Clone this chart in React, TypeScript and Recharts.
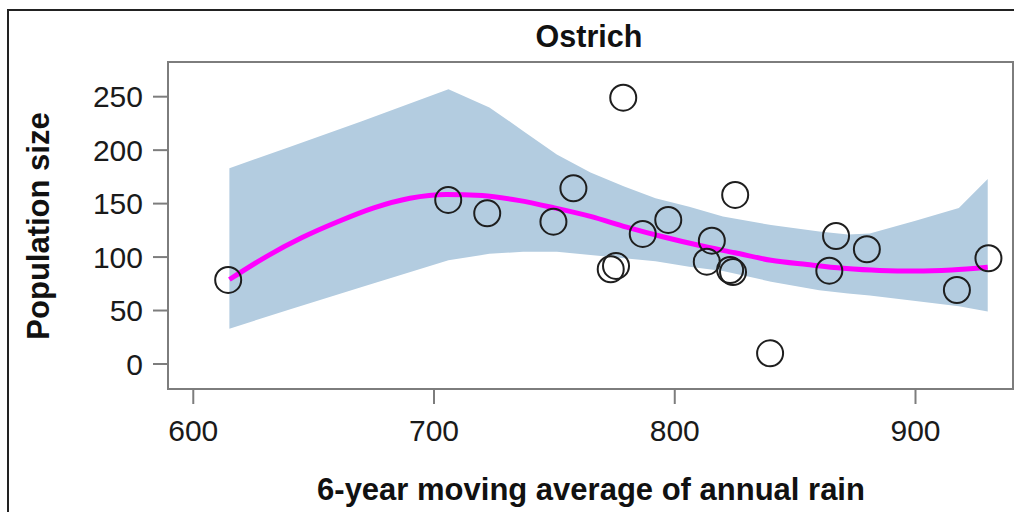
import React from 'react';
import {
  ComposedChart,
  Area,
  Line,
  Scatter,
  XAxis,
  YAxis,
  ReferenceArea,
} from 'recharts';

// observed counts vs. rainfall
const rainObs = [614.5, 705.9, 722.1, 749.6, 757.9, 778.6, 773.4, 775.6, 786.7, 797.3, 813.3, 815.4, 823.0, 824.2, 825.1, 839.6, 864.2, 867.0, 879.8, 917.2, 930.3];
const popObs = [78.6, 153.4, 140.9, 133.1, 164.3, 249.1, 88.6, 91.7, 121.6, 134.7, 95.7, 115.3, 87.9, 86.0, 158.1, 10.0, 87.3, 119.7, 107.3, 69.2, 98.9];

// smoothed fit
const fitRain = [615, 630, 645, 660, 675, 690, 705, 720, 735, 750, 765, 780, 795, 810, 825, 840, 855, 870, 885, 900, 915, 930];
const fitPop = [79, 100, 118, 133, 146, 155, 158.5, 157.5, 153, 146, 138, 128, 119, 111, 104, 97, 93, 89.5, 87.5, 87, 88, 90.5];

// confidence band around the fit
const bandRain = [615, 640, 670, 706, 723, 737, 751, 765, 779, 792, 806, 820, 840, 860, 872, 881, 900, 918, 930];
const bandLow = [33, 51, 72, 97, 103, 105, 105, 102, 99, 96, 91, 87, 77, 69, 66, 64, 59, 54, 49];
const bandHigh = [183, 203, 227, 257, 240, 218, 196, 179, 166, 155, 147, 138, 130, 124, 121, 122, 134, 146, 173];

const xTicks = [600, 700, 800, 900];
const yTicks = [0, 50, 100, 150, 200, 250];

const X_DOMAIN: [number, number] = [589.5, 940.5];
const Y_DOMAIN: [number, number] = [-23.4, 282.45];

const points = rainObs.map((x, i) => ({ x, y: popObs[i] }));
const fitData = fitRain.map((x, i) => ({ x, fit: fitPop[i] }));
const bandData = bandRain.map((x, i) => ({ x, band: [bandLow[i], bandHigh[i]] }));

const FONT = '"Liberation Sans", Arial, Helvetica, sans-serif';
const AXIS_GRAY = '#7d7d7d';

const OpenCircle = (props: any) => {
  const { cx, cy } = props;
  if (cx == null || cy == null) return null;
  return <circle cx={cx} cy={cy} r={13} fill="none" stroke="#1e1e1e" strokeWidth={2} />;
};

export default function App() {
  return (
    <div style={{ position: 'absolute', left: 0, top: 0, width: 1014, height: 512, overflow: 'hidden', background: '#fff' }}>
      {/* figure frame */}
      <div
        style={{
          position: 'absolute',
          left: 7,
          top: 9,
          width: 1100,
          height: 600,
          borderLeft: '2px solid #222',
          borderTop: '2px solid #222',
        }}
      />
      <ComposedChart
        width={1014}
        height={512}
        margin={{ top: 62, right: 1, bottom: 0, left: 0 }}
        style={{ position: 'absolute', left: 0, top: 0, fontFamily: FONT }}
      >
        <XAxis
          dataKey="x"
          type="number"
          domain={X_DOMAIN}
          ticks={xTicks}
          allowDataOverflow
          height={123}
          tickSize={15}
          tickMargin={16}
          axisLine={false}
          tickLine={{ stroke: AXIS_GRAY, strokeWidth: 2 }}
          tick={{ fill: '#1a1a1a', fontSize: 30, fontFamily: FONT }}
        />
        <YAxis
          dataKey="y"
          type="number"
          domain={Y_DOMAIN}
          ticks={yTicks}
          allowDataOverflow
          width={168}
          tickSize={15}
          tickMargin={10}
          axisLine={false}
          tickLine={{ stroke: AXIS_GRAY, strokeWidth: 2 }}
          tick={{ fill: '#1a1a1a', fontSize: 30, fontFamily: FONT }}
        />
        <Area
          data={bandData}
          dataKey="band"
          type="linear"
          stroke="none"
          fill="#b3cce0"
          fillOpacity={1}
          isAnimationActive={false}
        />
        <Line
          data={fitData}
          dataKey="fit"
          type="monotone"
          stroke="#ff00ff"
          strokeWidth={5}
          dot={false}
          isAnimationActive={false}
        />
        <Scatter data={points} dataKey="y" shape={OpenCircle} isAnimationActive={false} />
        <ReferenceArea
          x1={X_DOMAIN[0]}
          x2={X_DOMAIN[1]}
          y1={Y_DOMAIN[0]}
          y2={Y_DOMAIN[1]}
          fill="none"
          stroke={AXIS_GRAY}
          strokeWidth={2}
          ifOverflow="visible"
        />
        <text x={589} y={47} textAnchor="middle" fontSize={30.5} fontWeight="bold" fill="#111" fontFamily={FONT}>
          Ostrich
        </text>
        <text x={591} y={500} textAnchor="middle" fontSize={31} fontWeight="bold" fill="#111" fontFamily={FONT}>
          6-year moving average of annual rain
        </text>
        <text
          transform="translate(49,226) rotate(-90)"
          textAnchor="middle"
          fontSize={31}
          fontWeight="bold"
          fill="#111"
          fontFamily={FONT}
        >
          Population size
        </text>
      </ComposedChart>
    </div>
  );
}
